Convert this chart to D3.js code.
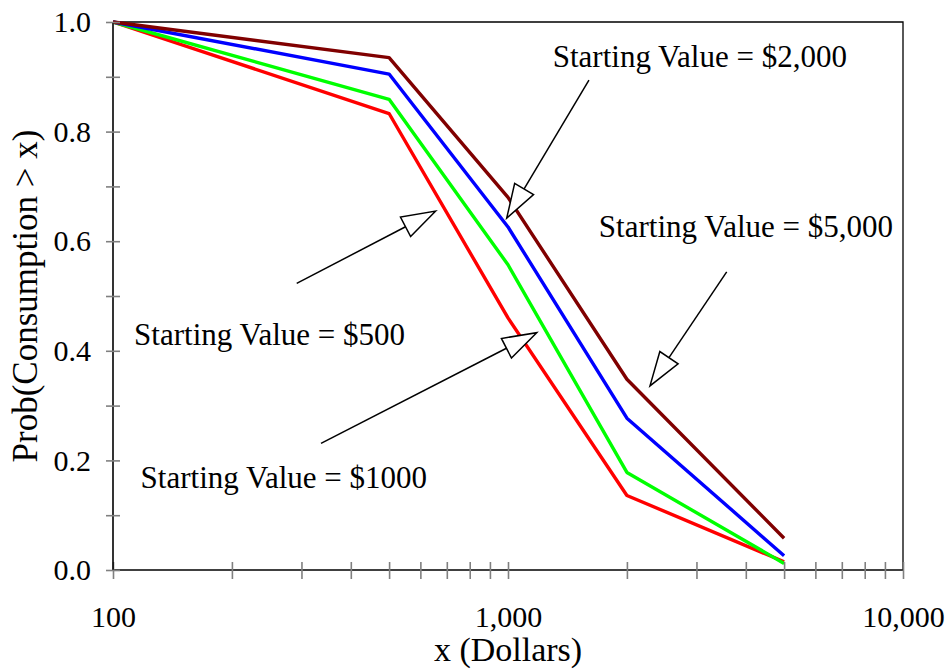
<!DOCTYPE html>
<html>
<head>
<meta charset="utf-8">
<script src="https://cdn.jsdelivr.net/npm/d3@7"></script>
<style>
  html, body { margin: 0; padding: 0; background: #fff; }
  svg { display: block; font-family: "Liberation Serif", "Times New Roman", serif; }
</style>
</head>
<body>
<svg id="chart" width="945" height="671"></svg>
<script>
// Consumption thresholds (dollars) on the log x axis
const thresholds = [100, 500, 1000, 2000, 5000];

// Probability that consumption exceeds x, one series per starting value
const seriesNames = ["$500", "$1000", "$2,000", "$5,000"];
const start500  = [1.0, 0.833, 0.46, 0.136, 0.015];
const start1000 = [1.0, 0.859, 0.557, 0.178, 0.012];
const start2000 = [1.0, 0.905, 0.626, 0.277, 0.026];
const start5000 = [1.0, 0.935, 0.68, 0.348, 0.058];
const seriesColors = ["#ff0000", "#00ff00", "#0000ff", "#800000"];

// Axis ticks
const xMajorTicks = [100, 1000, 10000];
const xMinorTicks = [200, 300, 400, 500, 600, 700, 800, 900,
                     2000, 3000, 4000, 5000, 6000, 7000, 8000, 9000];
const yTicks = [0, 0.2, 0.4, 0.6, 0.8, 1.0];
const yMinorTicks = [0.1, 0.3, 0.5, 0.7, 0.9];

// Callout labels and their arrows, in data units
const labelTexts = ["Starting Value = $2,000", "Starting Value = $5,000",
                    "Starting Value = $500", "Starting Value = $1000"];
const labelX = [7211, 9434, 548.6, 623.7];
const labelY = [0.918, 0.608, 0.4106, 0.1496];
const arrowFromX = [1603, 3578, 291.8, 336.2];
const arrowFromY = [0.894, 0.544, 0.523, 0.231];
const arrowToX = [992.5, 2288, 656.1, 1182];
const arrowToY = [0.642, 0.336, 0.655, 0.433];

const svg = d3.select("#chart");
const mLeft = 113, mRight = 903, mTop = 22, mBottom = 570;

const x = d3.scaleLog().domain([100, 10000]).range([mLeft, mRight]);
const y = d3.scaleLinear().domain([0, 1]).range([mBottom, mTop]);

// Plot frame (top and right edges)
svg.append("path")
  .attr("d", `M${mLeft},${mTop}H${mRight}V${mBottom}`)
  .attr("fill", "none").attr("stroke", "#000").attr("stroke-width", 1.3);

// Series lines
const series = [start500, start1000, start2000, start5000];
const line = d3.line().x((d, i) => x(thresholds[i])).y(d => y(d));
svg.append("g").selectAll("path")
  .data(series)
  .join("path")
  .attr("d", d => line(d))
  .attr("fill", "none")
  .attr("stroke", (d, i) => seriesColors[i])
  .attr("stroke-width", 3.4)
  .attr("stroke-linejoin", "round");

// Axes
const xAxis = d3.axisBottom(x).tickValues(xMajorTicks.concat(xMinorTicks))
  .tickFormat(d => xMajorTicks.includes(d) ? d3.format(",")(d) : "")
  .tickSize(8).tickPadding(28);
const gx = svg.append("g").attr("transform", `translate(0,${mBottom})`).call(xAxis);
gx.select(".domain").attr("d", `M${mLeft},0H${mRight}`).attr("stroke", "#000").attr("stroke-width", 1.6);
gx.selectAll(".tick line").attr("y1", -8).attr("y2", 9).attr("stroke", "#808080").attr("stroke-width", 1.6);
gx.selectAll(".tick text").attr("font-size", 30).attr("fill", "#000")
  .attr("font-family", "Liberation Serif, Times New Roman, serif");

const yAxis = d3.axisLeft(y).tickValues(yTicks.concat(yMinorTicks))
  .tickFormat(d => yTicks.some(t => Math.abs(t - d) < 1e-9) ? d3.format(".1f")(d) : "")
  .tickSize(7).tickPadding(15);
const gy = svg.append("g").attr("transform", `translate(${mLeft},0)`).call(yAxis);
gy.select(".domain").attr("d", `M0,${mTop}V${mBottom}`).attr("stroke", "#000").attr("stroke-width", 1.6);
gy.selectAll(".tick line").attr("x1", -7).attr("x2", 7).attr("stroke", "#808080").attr("stroke-width", 1.6);
gy.selectAll(".tick text").attr("font-size", 30).attr("fill", "#000")
  .attr("font-family", "Liberation Serif, Times New Roman, serif");

// Axis titles
svg.append("text")
  .attr("x", (mLeft + mRight) / 2).attr("y", 661)
  .attr("text-anchor", "middle").attr("font-size", 34)
  .text("x (Dollars)");
svg.append("text")
  .attr("transform", `translate(37,${(mTop + mBottom) / 2}) rotate(-90)`)
  .attr("text-anchor", "middle").attr("font-size", 35)
  .text("Prob(Consumption > x)");

// Callout arrows: a thin shaft with an open triangular head
const headLen = 34, headHalf = 11;
const ag = svg.append("g");
arrowFromX.forEach((fx, i) => {
  const x0 = x(fx), y0 = y(arrowFromY[i]);
  const x1 = x(arrowToX[i]), y1 = y(arrowToY[i]);
  const dx = x1 - x0, dy = y1 - y0, len = Math.hypot(dx, dy);
  const ux = dx / len, uy = dy / len;
  const bx = x1 - ux * headLen, by = y1 - uy * headLen;
  ag.append("line")
    .attr("x1", x0).attr("y1", y0).attr("x2", bx).attr("y2", by)
    .attr("stroke", "#000").attr("stroke-width", 1.5);
  ag.append("path")
    .attr("d", `M${x1},${y1}L${bx - uy * headHalf},${by + ux * headHalf}L${bx + uy * headHalf},${by - ux * headHalf}Z`)
    .attr("fill", "#fff").attr("stroke", "#000").attr("stroke-width", 1.5)
    .attr("stroke-linejoin", "miter");
});

// Callout labels
svg.append("g").selectAll("text")
  .data(labelTexts)
  .join("text")
  .attr("x", (d, i) => x(labelX[i]))
  .attr("y", (d, i) => y(labelY[i]))
  .attr("text-anchor", "end")
  .attr("font-size", 31)
  .text(d => d);
</script>
</body>
</html>
